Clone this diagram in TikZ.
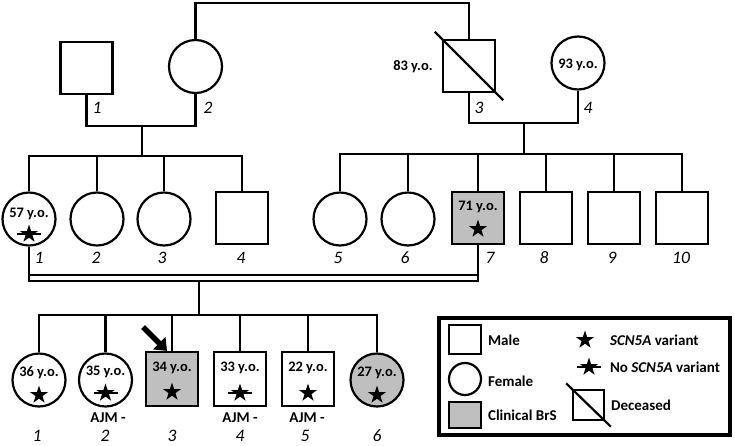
\documentclass[tikz,border=0pt]{standalone}
\usepackage{fontspec}
\setmainfont{Carlito}
\usetikzlibrary{arrows.meta,shapes.geometric}

\begin{document}
\begin{tikzpicture}[x=1pt,y=-1pt,line width=2.2pt,
  male/.style={draw,rectangle,minimum width=52,minimum height=52,inner sep=0},
  female/.style={draw,circle,minimum size=53,inner sep=0},
  brs/.style={fill=black!25},
  age/.style={font=\fontsize{14.5}{16}\selectfont\bfseries,inner sep=0},
  num/.style={font=\fontsize{17.5}{20}\selectfont\itshape,inner sep=0},
  legtext/.style={font=\fontsize{15}{17}\selectfont\bfseries,anchor=west,inner sep=0},
  variant/.style={star,star points=5,star point ratio=2.6,fill,draw=none,minimum size=19,inner sep=0},
  dead/.style={shorten <=-10pt,shorten >=-10pt}]

\useasboundingbox (0,0) rectangle (735,445);

\node[male] (i1) at (86.5,68) {};
\node[female] (i2) at (195.5,66.5) {};
\node[male] (i3) at (469,66) {};
\node[female] (i4) at (578,63) {};
\draw[dead] (i3.north west) -- (i3.south east);
\node[age] (i3age) at (413,67) {83 y.o.};
\node[age] (i4age) at (578,65) {93 y.o.};

\foreach \n/\x in {1/97,2/208,3/479,4/588}
  \node[num] (i\n n) at (\x,108) {\n};

\coordinate (top) at (332,3);
\coordinate (m1) at (142,126);
\coordinate (m2) at (524,123);
\draw (i2.north) |- (top) -| (i3.north);
\draw (i1.south) |- (m1) -| (i2.south);
\draw (i3.south) |- (m2) -| (i4.south);

\foreach \n/\x in {1/29,2/97,3/164,5/340,6/408}
  \node[female] (ii\n) at (\x,219) {};
\foreach \n/\x in {4/242,8/546,9/614,10/682}
  \node[male] (ii\n) at (\x,218) {};
\node[male,brs] (ii7) at (478,218) {};

\node[age] (ii1age) at (29,214) {57 y.o.};
\node[variant] (ii1var) at (29,234) {};
\draw ([xshift=-12pt]ii1var.center) -- ([xshift=12pt]ii1var.center);
\node[age] (ii7age) at (478,207) {71 y.o.};
\node[variant] (ii7var) at (478,229) {};

\foreach \n/\x in {1/39,2/96,3/162,4/241,5/338,6/405,7/490,8/544,9/612,10/681}
  \node[num] (ii\n n) at (\x,258) {\n};

\coordinate (s1) at (142,156);
\coordinate (s2) at (524,154);
\draw (m1) -- (s1);
\draw (m2) -- (s2);
\foreach \n in {1,...,4}
  \draw (s1) -| (ii\n.north);
\foreach \n in {5,...,10}
  \draw (s2) -| (ii\n.north);

\coordinate (c1) at (199,281);
\coordinate (c2) at (199,275);
\draw (ii1.south) |- (c1) -| (ii7.south);
\draw (ii1.south |- c2) -- (ii7.south |- c2);

\node[female] (iii1) at (39,380) {};
\node[female] (iii2) at (105.5,380) {};
\node[male,brs,minimum height=54] (iii3) at (172,379) {};
\node[male,minimum height=54] (iii4) at (240,379) {};
\node[male,minimum height=54] (iii5) at (308,379) {};
\node[female,brs] (iii6) at (377,380) {};

\node[age] (iii1age) at (39,373) {36 y.o.};
\node[age] (iii2age) at (105.5,372) {35 y.o.};
\node[age] (iii3age) at (172,368) {34 y.o.};
\node[age] (iii4age) at (240,368) {33 y.o.};
\node[age] (iii5age) at (308,368) {22 y.o.};
\node[age] (iii6age) at (377,373) {27 y.o.};

\node[variant] (iii1var) at (39,395) {};
\node[variant] (iii2var) at (105.5,393) {};
\node[variant] (iii3var) at (172,392) {};
\node[variant] (iii4var) at (240,393) {};
\node[variant] (iii5var) at (308,393) {};
\node[variant] (iii6var) at (377,395) {};
\draw ([xshift=-12pt]iii2var.center) -- ([xshift=12pt]iii2var.center);
\draw ([xshift=-12pt]iii4var.center) -- ([xshift=12pt]iii4var.center);

\node[age,font=\fontsize{15}{17}\selectfont\bfseries] (iii2ajm) at (108,418) {AJM -};
\node[age,font=\fontsize{15}{17}\selectfont\bfseries] (iii4ajm) at (240,418) {AJM -};
\node[age,font=\fontsize{15}{17}\selectfont\bfseries] (iii5ajm) at (307,418) {AJM -};

\foreach \n/\x in {1/37,2/105,3/172,4/240,5/305,6/377}
  \node[num] (iii\n n) at (\x,436) {\n};

\coordinate (s3) at (199,315);
\draw (c1) -- (s3);
\foreach \n in {1,...,6}
  \draw (s3) -| (iii\n.north);

\coordinate (ptail) at (143,327);
\draw[line width=5.5pt,-{Triangle[length=11pt,width=17pt]}] (ptail) -- (iii3.100);

\node[draw,line width=4pt,minimum width=291,minimum height=117,inner sep=0] (legend) at (584.5,376.5) {};
\node[male,minimum width=32,minimum height=29] (lmale) at (465,339.5) {};
\node[female,minimum size=32] (lfemale) at (465,379) {};
\node[male,brs,minimum width=32,minimum height=26] (lbrs) at (465,415) {};
\node[legtext] (tmale) at (487,340) {Male};
\node[legtext] (tfemale) at (487,381) {Female};
\node[legtext] (tbrs) at (487,415) {Clinical BrS};
\node[variant] (lvar) at (585,340) {};
\node[legtext] (tvar) at (609,340) {\textit{SCN5A} variant};
\node[variant] (lnovar) at (589,367) {};
\draw ([xshift=-12pt]lnovar.center) -- ([xshift=12pt]lnovar.center);
\node[legtext] (tnovar) at (609,367) {No \textit{SCN5A} variant};
\node[male,minimum width=31,minimum height=30] (ldead) at (588.5,405) {};
\draw[shorten <=-8pt,shorten >=-8pt] (ldead.north west) -- (ldead.south east);
\node[legtext] (tdead) at (610,405) {Deceased};

\end{tikzpicture}
\end{document}
